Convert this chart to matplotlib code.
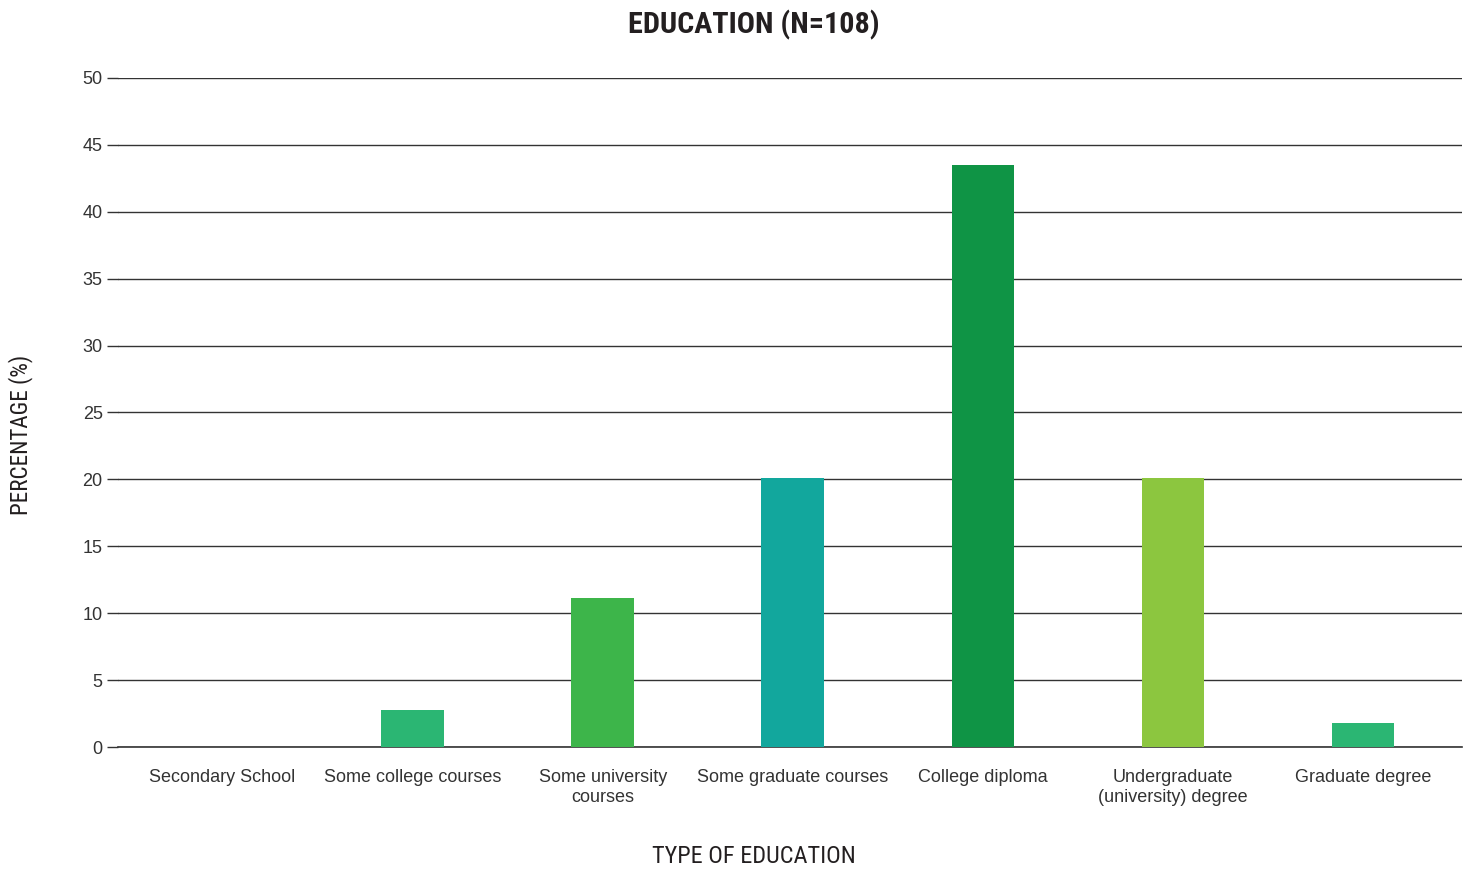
import matplotlib.pyplot as plt
from matplotlib import font_manager

categories = ['Secondary School', 'Some college courses', 'Some university\ncourses',
              'Some graduate courses', 'College diploma', 'Undergraduate\n(university) degree',
              'Graduate degree']
percentages = [0, 2.8, 11.1, 20.1, 43.5, 20.1, 1.8]
bar_colors = ['#2bb673', '#2bb673', '#3db54a', '#12a79d', '#0f9445', '#8cc63f', '#2bb673']
y_ticks = [0, 5, 10, 15, 20, 25, 30, 35, 40, 45, 50]

# pick a narrow font for the headings if one is installed
fonts = font_manager.fontManager.ttflist
names = {f.name for f in fonts}
head_family, head_stretch = 'DejaVu Sans', 'normal'
for cand in ['Roboto Condensed', 'Open Sans Condensed', 'Liberation Sans Narrow']:
    if cand in names:
        head_family = cand
        break
else:
    for f in fonts:
        if f.name in ('DejaVu Sans', 'Roboto', 'Open Sans', 'Noto Sans') and 'condensed' in str(f.stretch):
            head_family, head_stretch = f.name, 'condensed'
            break

plt.rcParams['font.family'] = ['Liberation Sans', 'DejaVu Sans']

fig = plt.figure(figsize=(14.73, 8.74), dpi=100)
ax = fig.add_axes([0.0801, 0.1453, 0.9124, 0.7655])

x = list(range(len(categories)))
ax.bar(x, percentages, width=0.33, color=bar_colors, zorder=3)

ax.set_ylim(0, 50)
ax.set_xlim(-0.55, 6.52)
ax.set_yticks(y_ticks)
ax.set_xticks(x)
ax.set_xticklabels(categories, fontsize=13, color='#333333', linespacing=1.25)
ax.tick_params(axis='x', length=0, pad=16)
ax.tick_params(axis='y', length=8, width=1, color='#333333', labelsize=13,
               labelcolor='#333333', pad=3)
ax.grid(axis='y', color='#333333', linewidth=1, zorder=0)
ax.axhline(0, color='#333333', linewidth=1.2, zorder=2, clip_on=False)
for s in ax.spines.values():
    s.set_visible(False)

head_kw = dict(family=[head_family, 'DejaVu Sans'], stretch=head_stretch, color='#231f20')
title = fig.text(0.512, 0.971, 'EDUCATION (N=108)', ha='center', va='center',
                 fontsize=26, fontweight='bold', **head_kw)
xlab = fig.text(0.512, 0.020, 'TYPE OF EDUCATION', ha='center', va='center',
                fontsize=21, **head_kw)
ylab = fig.text(0.0136, 0.502, 'PERCENTAGE (%)', ha='center', va='center', rotation=90,
                fontsize=21, **head_kw)

# shrink the headings so their length matches the narrow original lettering
renderer = fig.canvas.get_renderer()
for txt, target, vertical in [(title, 252, False), (xlab, 203, False), (ylab, 160, True)]:
    bb = txt.get_window_extent(renderer)
    size = bb.height if vertical else bb.width
    txt.set_fontsize(min(txt.get_fontsize(), txt.get_fontsize() * target / size))

fig.savefig('out.png', dpi=100)
